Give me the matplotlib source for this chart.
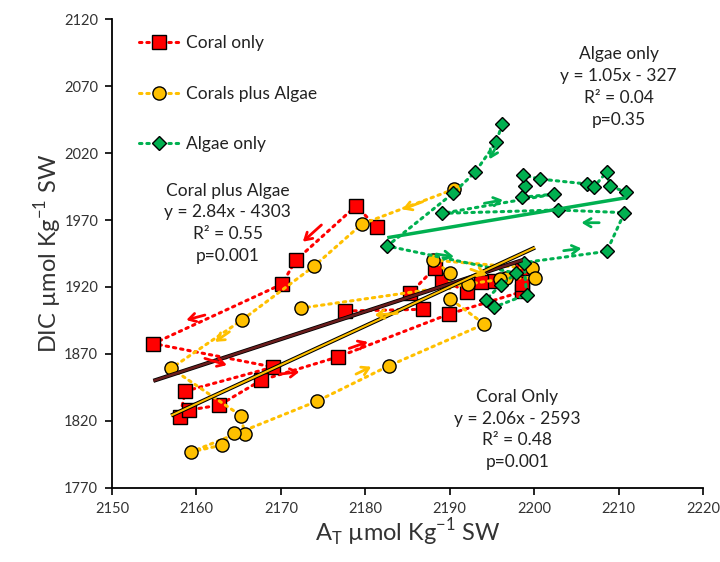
import matplotlib
matplotlib.use("Agg")
import matplotlib.pyplot as plt
import numpy as np

plt.rcParams['font.family'] = ['Lato', 'DejaVu Sans']

# ---- Data (in sequence order) ----
coral_at = [2181.4, 2178.9, 2171.8, 2170.1, 2154.9, 2169.1, 2158.7, 2158.0, 2159.1, 2162.7,
            2167.7, 2176.8, 2189.9, 2198.6, 2198.6, 2198.6, 2195.2, 2193.7, 2192.1, 2189.1,
            2188.3, 2185.3, 2186.8, 2177.6]
coral_dic = [1964.5, 1980.5, 1940.1, 1922.0, 1877.7, 1860.1, 1842.2, 1822.5, 1828.0, 1831.7,
             1850.4, 1867.8, 1899.7, 1916.6, 1922.0, 1933.9, 1924.8, 1923.4, 1916.4, 1925.2,
             1934.5, 1915.2, 1903.3, 1902.0]

cpa_at = [2190.5, 2179.6, 2173.9, 2165.4, 2157.0, 2165.3, 2165.7, 2164.5, 2163.0, 2159.4,
          2174.3, 2182.8, 2194.1, 2190.0, 2190.0, 2188.0, 2199.8, 2200.1, 2196.7, 2196.0,
          2192.2, 2172.4]
cpa_dic = [1993.0, 1967.0, 1935.4, 1895.3, 1859.2, 1823.7, 1809.8, 1810.6, 1801.8, 1796.8,
           1834.7, 1861.1, 1892.3, 1911.3, 1930.4, 1940.1, 1933.8, 1927.0, 1926.4, 1925.7,
           1922.2, 1904.2]

alg_at = [2196.2, 2195.5, 2193.0, 2190.4, 2182.6, 2197.9, 2196.1, 2194.3, 2195.3, 2199.1,
          2198.8, 2208.6, 2210.7, 2202.8, 2189.1, 2202.4, 2198.6, 2198.9, 2198.7, 2200.7,
          2206.3, 2207.1, 2208.6, 2209.0, 2210.9]
alg_dic = [2041.5, 2028.1, 2005.7, 1990.0, 1950.6, 1930.2, 1921.8, 1910.6, 1905.0, 1914.3,
           1938.2, 1946.6, 1975.5, 1977.5, 1975.0, 1989.4, 1987.0, 1995.4, 2003.6, 2000.6,
           1996.9, 1994.9, 2005.9, 1995.4, 1990.7]

series_labels = ['Coral only', 'Corals plus Algae', 'Algae only']

# direction arrows: (x0, y0, x1, y1, series index)
arrows = [
    (2174.8, 1966.3, 2172.6, 1953.8, 0),
    (2161.0, 1899.0, 2158.8, 1895.3, 0),
    (2161.0, 1866.6, 2163.6, 1861.6, 0),
    (2169.9, 1854.9, 2172.2, 1856.6, 0),
    (2178.1, 1874.1, 2180.3, 1879.0, 0),
    (2186.8, 1983.7, 2184.4, 1978.0, 1),
    (2163.9, 1886.5, 2162.2, 1879.0, 1),
    (2183.8, 1900.3, 2181.1, 1899.0, 1),
    (2178.9, 1854.9, 2180.7, 1860.4, 1),
    (2192.5, 1933.2, 2194.4, 1928.9, 1),
    (2195.5, 2024.8, 2194.7, 2015.4, 2),
    (2194.1, 1982.5, 2196.3, 1985.0, 2),
    (2207.7, 1968.0, 2205.6, 1968.0, 2),
    (2203.5, 1947.1, 2205.6, 1948.8, 2),
    (2188.4, 1944.6, 2190.5, 1942.6, 2),
]

# regression annotation texts
stats_text = [
    "Coral Only\ny = 2.06x - 2593\nR² = 0.48\np=0.001",
    "Coral plus Algae\ny = 2.84x - 4303\nR² = 0.55\np=0.001",
    "Algae only\ny = 1.05x - 327\nR² = 0.04\np=0.35",
]
stats_pos = [(2198.0, 1844.0), (2163.7, 1998.0), (2210.0, 2100.0)]

RED = '#ff0000'
YEL = '#ffc000'
GRN = '#00b050'
colors = [RED, YEL, GRN]
markers = ['s', 'o', 'D']
msizes = [9.5, 9.5, 7]

fig = plt.figure(figsize=(7.2, 5.62), dpi=100)
ax = fig.add_axes([0.1556, 0.1322, 0.8208, 0.8335])

datasets = [(coral_at, coral_dic), (cpa_at, cpa_dic), (alg_at, alg_dic)]
for (xs, ys), c, m, ms, lab in zip(datasets, colors, markers, msizes, series_labels):
    ax.plot(xs, ys, linestyle=(0, (0.8, 1.6)), dash_capstyle='round', lw=2.2, color=c,
            marker=m, markersize=ms, markerfacecolor=c, markeredgecolor='black',
            markeredgewidth=1.0, label=lab, zorder=3)

# trendlines (least-squares fit of each series)
def trend(xs, ys):
    xs = np.asarray(xs); ys = np.asarray(ys)
    k, b = np.polyfit(xs, ys, 1)
    xx = np.array([xs.min(), xs.max()])
    return xx, k * xx + b

xx, yy = trend(coral_at, coral_dic)
ax.plot(xx, yy, color='#000000', lw=3.0, zorder=4, solid_capstyle='butt')
ax.plot(xx, yy, color='#6b1d1d', lw=1.8, zorder=4, solid_capstyle='butt')
xx, yy = trend(cpa_at, cpa_dic)
ax.plot(xx, yy, color='#000000', lw=3.0, zorder=4, solid_capstyle='butt')
ax.plot(xx, yy, color=YEL, lw=1.5, zorder=4, solid_capstyle='butt')
xx, yy = trend(alg_at, alg_dic)
ax.plot(xx, yy, color=GRN, lw=2.5, zorder=4, solid_capstyle='butt')

for x0, y0, x1, y1, si in arrows:
    ax.annotate('', xy=(x1, y1), xytext=(x0, y0),
                arrowprops=dict(arrowstyle='->,head_length=0.5,head_width=0.3',
                                color=colors[si], lw=2.0, shrinkA=0, shrinkB=0),
                zorder=5)

for txt, (tx, ty) in zip(stats_text, stats_pos):
    ax.text(tx, ty, txt, ha='center', va='top', fontsize=12.5, linespacing=1.45,
            color='#222222', zorder=6)

ax.set_xlim(2150, 2220)
ax.set_ylim(1770, 2120)
ax.set_xticks(np.arange(2150, 2221, 10))
ax.set_yticks(np.arange(1770, 2121, 50))
ax.tick_params(axis='both', direction='out', length=5, width=1.2, labelsize=10.5,
               colors='black', pad=5)
for lbl in ax.get_xticklabels() + ax.get_yticklabels():
    lbl.set_color('#333333')
ax.spines['top'].set_visible(False)
ax.spines['right'].set_visible(False)
ax.spines['left'].set_linewidth(1.3)
ax.spines['bottom'].set_linewidth(1.3)

ax.set_xlabel(r'A$_\mathregular{T}$ µmol Kg$^\mathregular{-1}$ SW', fontsize=17, color='#333333', labelpad=1)
ax.set_ylabel(r'DIC µmol Kg$^\mathregular{-1}$ SW', fontsize=17, color='#333333', labelpad=0)

leg = ax.legend(loc='upper left', bbox_to_anchor=(0.02, 1.0), frameon=False,
                fontsize=12.5, labelspacing=2.0, handlelength=2.3, handletextpad=0.4)
for t in leg.get_texts():
    t.set_color('#222222')

fig.savefig('out.png', dpi=100)
